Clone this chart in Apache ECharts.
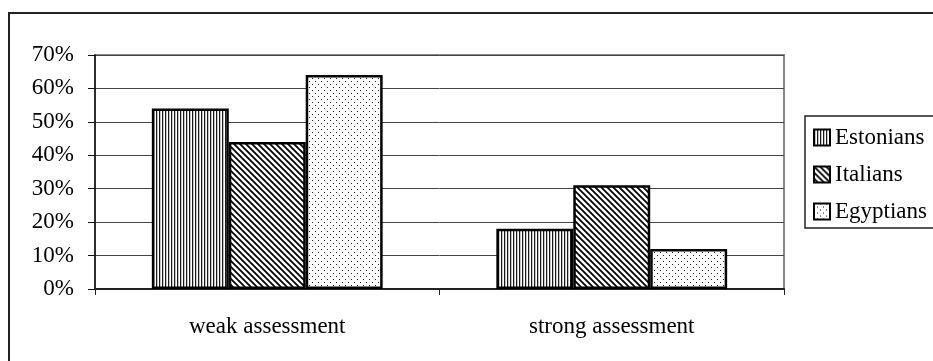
<!DOCTYPE html>
<html>
<head>
<meta charset="utf-8">
<script src="https://cdn.jsdelivr.net/npm/echarts@6/dist/echarts.min.js"></script>
<style>
  html, body { margin: 0; padding: 0; background: #fff; }
  #chart { width: 933px; height: 361px; }
</style>
</head>
<body>
<div id="chart"></div>
<script>
// Share of each group per assessment type (percent)
const categories = ['weak assessment', 'strong assessment'];
const seriesNames = ['Estonians', 'Italians', 'Egyptians'];
const estonians = [54, 18];
const italians = [44, 31];
const egyptians = [64, 12];
const yTicks = { min: 0, max: 70, interval: 10 };

// Monochrome hatch fills drawn on small tiles
function tile(w, h, draw) {
  const c = document.createElement('canvas');
  c.width = w; c.height = h;
  const ctx = c.getContext('2d');
  ctx.fillStyle = '#fff';
  ctx.fillRect(0, 0, w, h);
  draw(ctx);
  return { image: c, repeat: 'repeat' };
}
const verticalStripes = tile(3, 3, ctx => {
  ctx.fillStyle = '#1a1a1a';
  ctx.fillRect(0, 0, 1, 3);
  ctx.fillStyle = '#c4c4c4';
  ctx.fillRect(1, 0, 1, 3);
});
const diagonalStripes = tile(6, 6, ctx => {
  ctx.strokeStyle = '#000';
  ctx.lineWidth = 1.8;
  ctx.beginPath();
  ctx.moveTo(-1, -1); ctx.lineTo(7, 7);
  ctx.moveTo(-4, 2); ctx.lineTo(1, 7);
  ctx.moveTo(5, -1); ctx.lineTo(7, 1);
  ctx.stroke();
});
const dots = tile(6, 6, ctx => {
  ctx.fillStyle = '#222';
  ctx.fillRect(0, 0, 1, 1);
  ctx.fillRect(3, 3, 1, 1);
});
const fills = [verticalStripes, diagonalStripes, dots];
const values = [estonians, italians, egyptians];

const font = '"Liberation Serif", "DejaVu Serif", serif';

const chart = echarts.init(document.getElementById('chart'), null, { renderer: 'canvas' });
chart.setOption({
  animation: false,
  backgroundColor: '#fff',
  textStyle: { fontFamily: font, color: '#000' },
  graphic: [
    {
      type: 'rect',
      shape: { x: 9, y: 13, width: 960, height: 400 },
      style: { fill: 'none', stroke: '#222', lineWidth: 2 },
      z: 0
    },
    {
      type: 'rect',
      shape: { x: 805, y: 116, width: 200, height: 112 },
      style: { fill: '#fff', stroke: '#222', lineWidth: 1.5 },
      z: 1
    }
  ],
  grid: {
    left: 95, right: 149, top: 55, bottom: 72,
    show: true, borderColor: '#888', borderWidth: 2
  },
  legend: {
    orient: 'vertical',
    left: 813, top: 126,
    padding: 0,
    itemGap: 14,
    itemWidth: 16, itemHeight: 16,
    icon: 'rect',
    itemStyle: { borderColor: '#000', borderWidth: 2 },
    textStyle: { fontFamily: font, fontSize: 23, color: '#000', padding: [0, 0, 0, 0] },
    data: seriesNames,
    z: 5
  },
  xAxis: {
    type: 'category',
    data: categories,
    axisLine: { lineStyle: { color: '#222', width: 2 } },
    axisTick: { show: true, length: 6, lineStyle: { color: '#222' } },
    axisLabel: { fontFamily: font, fontSize: 23, color: '#000', margin: 26 }
  },
  yAxis: {
    type: 'value',
    min: yTicks.min, max: yTicks.max, interval: yTicks.interval,
    axisLine: { show: true, lineStyle: { color: '#111', width: 1.5 } },
    axisTick: { show: true, length: 7, lineStyle: { color: '#111' } },
    axisLabel: { fontFamily: font, fontSize: 23, color: '#000', margin: 21, formatter: '{value}%' },
    splitLine: { show: true, lineStyle: { color: '#444', width: 1 } }
  },
  series: seriesNames.map((name, i) => ({
    name,
    type: 'bar',
    data: values[i],
    barGap: '0%',
    barCategoryGap: '33%',
    itemStyle: { color: fills[i], borderColor: '#000', borderWidth: 2.5 }
  }))
});
</script>
</body>
</html>
